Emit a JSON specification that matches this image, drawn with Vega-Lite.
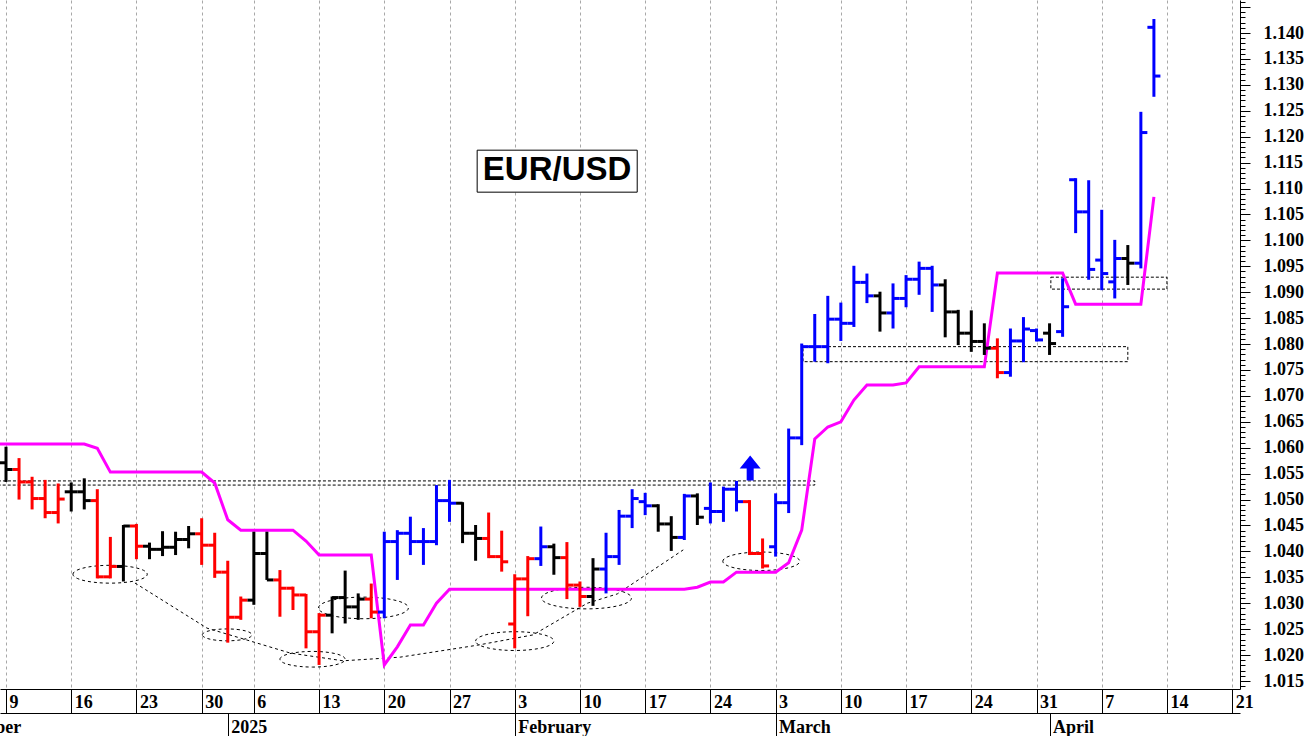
{
  "$schema": "https://vega.github.io/schema/vega-lite/v6.json",
  "width": 1240,
  "height": 689,
  "autosize": {"type": "none"},
  "padding": {"left": 0, "top": 0, "right": 71, "bottom": 47},
  "background": "white",
  "config": {
    "view": {"stroke": null},
    "axis": {
      "labelFont": "Liberation Serif",
      "labelFontWeight": "bold",
      "labelFontSize": 18,
      "labelColor": "black",
      "domainColor": "black",
      "domainWidth": 1,
      "tickColor": "black",
      "tickWidth": 1
    }
  },
  "datasets": {
    "bars": [
      {"i": 0, "o": 1.0571, "h": 1.0602, "l": 1.0534, "c": 1.0558, "s": "flat"},
      {"i": 1, "o": 1.0558, "h": 1.0580, "l": 1.0500, "c": 1.0534, "s": "down"},
      {"i": 2, "o": 1.0534, "h": 1.0544, "l": 1.0481, "c": 1.0502, "s": "down"},
      {"i": 3, "o": 1.0502, "h": 1.0538, "l": 1.0464, "c": 1.0475, "s": "down"},
      {"i": 4, "o": 1.0475, "h": 1.0531, "l": 1.0454, "c": 1.0501, "s": "down"},
      {"i": 5, "o": 1.0515, "h": 1.0533, "l": 1.0477, "c": 1.0515, "s": "flat"},
      {"i": 6, "o": 1.0515, "h": 1.0541, "l": 1.0481, "c": 1.0498, "s": "flat"},
      {"i": 7, "o": 1.0498, "h": 1.0520, "l": 1.0348, "c": 1.0351, "s": "down"},
      {"i": 8, "o": 1.0351, "h": 1.0428, "l": 1.0348, "c": 1.0371, "s": "down"},
      {"i": 9, "o": 1.0371, "h": 1.0451, "l": 1.0342, "c": 1.0449, "s": "flat"},
      {"i": 10, "o": 1.0449, "h": 1.0453, "l": 1.0385, "c": 1.0410, "s": "down"},
      {"i": 11, "o": 1.0410, "h": 1.0417, "l": 1.0385, "c": 1.0404, "s": "flat"},
      {"i": 12, "o": 1.0404, "h": 1.0439, "l": 1.0391, "c": 1.0408, "s": "flat"},
      {"i": 13, "o": 1.0408, "h": 1.0438, "l": 1.0393, "c": 1.0423, "s": "flat"},
      {"i": 14, "o": 1.0423, "h": 1.0449, "l": 1.0406, "c": 1.0434, "s": "flat"},
      {"i": 15, "o": 1.0434, "h": 1.0464, "l": 1.0374, "c": 1.0412, "s": "down"},
      {"i": 16, "o": 1.0412, "h": 1.0436, "l": 1.0349, "c": 1.0360, "s": "down"},
      {"i": 17, "o": 1.0360, "h": 1.0382, "l": 1.0224, "c": 1.0273, "s": "down"},
      {"i": 18, "o": 1.0273, "h": 1.0313, "l": 1.0268, "c": 1.0306, "s": "down"},
      {"i": 19, "o": 1.0306, "h": 1.0438, "l": 1.0297, "c": 1.0396, "s": "flat"},
      {"i": 20, "o": 1.0396, "h": 1.0438, "l": 1.0345, "c": 1.0345, "s": "flat"},
      {"i": 21, "o": 1.0345, "h": 1.0364, "l": 1.0274, "c": 1.0329, "s": "down"},
      {"i": 22, "o": 1.0329, "h": 1.0332, "l": 1.0287, "c": 1.0316, "s": "down"},
      {"i": 23, "o": 1.0316, "h": 1.0318, "l": 1.0213, "c": 1.0245, "s": "down"},
      {"i": 24, "o": 1.0245, "h": 1.0281, "l": 1.0181, "c": 1.0277, "s": "down"},
      {"i": 25, "o": 1.0277, "h": 1.0313, "l": 1.0242, "c": 1.0311, "s": "flat"},
      {"i": 26, "o": 1.0311, "h": 1.0363, "l": 1.0261, "c": 1.0293, "s": "flat"},
      {"i": 27, "o": 1.0293, "h": 1.0319, "l": 1.0268, "c": 1.0308, "s": "flat"},
      {"i": 28, "o": 1.0308, "h": 1.0338, "l": 1.0271, "c": 1.0283, "s": "down"},
      {"i": 29, "o": 1.0283, "h": 1.0438, "l": 1.0271, "c": 1.0419, "s": "up"},
      {"i": 30, "o": 1.0419, "h": 1.0441, "l": 1.0345, "c": 1.0435, "s": "up"},
      {"i": 31, "o": 1.0435, "h": 1.0467, "l": 1.0393, "c": 1.0419, "s": "up"},
      {"i": 32, "o": 1.0419, "h": 1.0445, "l": 1.0374, "c": 1.0419, "s": "up"},
      {"i": 33, "o": 1.0419, "h": 1.0528, "l": 1.0412, "c": 1.0498, "s": "up"},
      {"i": 34, "o": 1.0498, "h": 1.0538, "l": 1.0457, "c": 1.0493, "s": "up"},
      {"i": 35, "o": 1.0493, "h": 1.0495, "l": 1.0416, "c": 1.0435, "s": "flat"},
      {"i": 36, "o": 1.0435, "h": 1.0451, "l": 1.0382, "c": 1.0425, "s": "flat"},
      {"i": 37, "o": 1.0425, "h": 1.0475, "l": 1.0387, "c": 1.0390, "s": "down"},
      {"i": 38, "o": 1.0390, "h": 1.0440, "l": 1.0361, "c": 1.0380, "s": "down"},
      {"i": 39, "o": 1.0260, "h": 1.0356, "l": 1.0213, "c": 1.0347, "s": "down"},
      {"i": 40, "o": 1.0347, "h": 1.0391, "l": 1.0275, "c": 1.0386, "s": "down"},
      {"i": 41, "o": 1.0386, "h": 1.0448, "l": 1.0372, "c": 1.0409, "s": "up"},
      {"i": 42, "o": 1.0409, "h": 1.0415, "l": 1.0355, "c": 1.0388, "s": "flat"},
      {"i": 43, "o": 1.0388, "h": 1.0418, "l": 1.0308, "c": 1.0335, "s": "down"},
      {"i": 44, "o": 1.0335, "h": 1.0342, "l": 1.0293, "c": 1.0313, "s": "down"},
      {"i": 45, "o": 1.0313, "h": 1.0387, "l": 1.0295, "c": 1.0366, "s": "flat"},
      {"i": 46, "o": 1.0366, "h": 1.0436, "l": 1.0319, "c": 1.0390, "s": "up"},
      {"i": 47, "o": 1.0390, "h": 1.0480, "l": 1.0374, "c": 1.0468, "s": "up"},
      {"i": 48, "o": 1.0468, "h": 1.0520, "l": 1.0445, "c": 1.0502, "s": "up"},
      {"i": 49, "o": 1.0496, "h": 1.0513, "l": 1.0470, "c": 1.0488, "s": "up"},
      {"i": 50, "o": 1.0488, "h": 1.0491, "l": 1.0438, "c": 1.0453, "s": "flat"},
      {"i": 51, "o": 1.0453, "h": 1.0468, "l": 1.0401, "c": 1.0427, "s": "flat"},
      {"i": 52, "o": 1.0427, "h": 1.0511, "l": 1.0422, "c": 1.0507, "s": "up"},
      {"i": 53, "o": 1.0507, "h": 1.0512, "l": 1.0451, "c": 1.0466, "s": "flat"},
      {"i": 54, "o": 1.0483, "h": 1.0533, "l": 1.0454, "c": 1.0477, "s": "up"},
      {"i": 55, "o": 1.0477, "h": 1.0525, "l": 1.0457, "c": 1.0520, "s": "up"},
      {"i": 56, "o": 1.0520, "h": 1.0536, "l": 1.0477, "c": 1.0496, "s": "up"},
      {"i": 57, "o": 1.0496, "h": 1.0499, "l": 1.0393, "c": 1.0396, "s": "down"},
      {"i": 58, "o": 1.0396, "h": 1.0425, "l": 1.0367, "c": 1.0372, "s": "down"},
      {"i": 59, "o": 1.0409, "h": 1.0512, "l": 1.0390, "c": 1.0494, "s": "up"},
      {"i": 60, "o": 1.0494, "h": 1.0637, "l": 1.0474, "c": 1.0619, "s": "up"},
      {"i": 61, "o": 1.0619, "h": 1.0801, "l": 1.0605, "c": 1.0795, "s": "up"},
      {"i": 62, "o": 1.0795, "h": 1.0858, "l": 1.0766, "c": 1.0795, "s": "up"},
      {"i": 63, "o": 1.0795, "h": 1.0893, "l": 1.0763, "c": 1.0848, "s": "up"},
      {"i": 64, "o": 1.0848, "h": 1.0880, "l": 1.0806, "c": 1.0840, "s": "up"},
      {"i": 65, "o": 1.0840, "h": 1.0951, "l": 1.0833, "c": 1.0919, "s": "up"},
      {"i": 66, "o": 1.0919, "h": 1.0936, "l": 1.0879, "c": 1.0893, "s": "up"},
      {"i": 67, "o": 1.0893, "h": 1.0901, "l": 1.0824, "c": 1.0860, "s": "flat"},
      {"i": 68, "o": 1.0860, "h": 1.0917, "l": 1.0830, "c": 1.0888, "s": "up"},
      {"i": 69, "o": 1.0888, "h": 1.0933, "l": 1.0871, "c": 1.0925, "s": "up"},
      {"i": 70, "o": 1.0925, "h": 1.0959, "l": 1.0895, "c": 1.0946, "s": "up"},
      {"i": 71, "o": 1.0946, "h": 1.0951, "l": 1.0862, "c": 1.0914, "s": "up"},
      {"i": 72, "o": 1.0914, "h": 1.0925, "l": 1.0813, "c": 1.0862, "s": "flat"},
      {"i": 73, "o": 1.0862, "h": 1.0866, "l": 1.0798, "c": 1.0821, "s": "flat"},
      {"i": 74, "o": 1.0821, "h": 1.0865, "l": 1.0785, "c": 1.0805, "s": "flat"},
      {"i": 75, "o": 1.0805, "h": 1.0840, "l": 1.0779, "c": 1.0792, "s": "flat"},
      {"i": 76, "o": 1.0792, "h": 1.0811, "l": 1.0734, "c": 1.0745, "s": "down"},
      {"i": 77, "o": 1.0745, "h": 1.0830, "l": 1.0737, "c": 1.0806, "s": "up"},
      {"i": 78, "o": 1.0806, "h": 1.0852, "l": 1.0765, "c": 1.0829, "s": "up"},
      {"i": 79, "o": 1.0826, "h": 1.0830, "l": 1.0805, "c": 1.0808, "s": "up"},
      {"i": 80, "o": 1.0821, "h": 1.0840, "l": 1.0779, "c": 1.0801, "s": "flat"},
      {"i": 81, "o": 1.0824, "h": 1.0927, "l": 1.0814, "c": 1.0872, "s": "up"},
      {"i": 82, "o": 1.1117, "h": 1.1120, "l": 1.1014, "c": 1.1055, "s": "up"},
      {"i": 83, "o": 1.1055, "h": 1.1116, "l": 1.0924, "c": 1.0944, "s": "up"},
      {"i": 84, "o": 1.0962, "h": 1.1059, "l": 1.0904, "c": 1.0936, "s": "up"},
      {"i": 85, "o": 1.0920, "h": 1.1001, "l": 1.0888, "c": 1.0965, "s": "up"},
      {"i": 86, "o": 1.0965, "h": 1.0991, "l": 1.0914, "c": 1.0956, "s": "flat"},
      {"i": 87, "o": 1.0956, "h": 1.1248, "l": 1.0946, "c": 1.1208, "s": "up"},
      {"i": 88, "o": 1.1411, "h": 1.1427, "l": 1.1277, "c": 1.1317, "s": "up"}
    ],
    "stop": [
      {"i": -1, "v": 1.0607}, {"i": 0, "v": 1.0607}, {"i": 1, "v": 1.0607}, {"i": 2, "v": 1.0607},
      {"i": 3, "v": 1.0607}, {"i": 4, "v": 1.0607}, {"i": 5, "v": 1.0607}, {"i": 6, "v": 1.0607},
      {"i": 7, "v": 1.0599}, {"i": 8, "v": 1.0553}, {"i": 9, "v": 1.0553}, {"i": 10, "v": 1.0553},
      {"i": 11, "v": 1.0553}, {"i": 12, "v": 1.0553}, {"i": 13, "v": 1.0553}, {"i": 14, "v": 1.0553},
      {"i": 15, "v": 1.0553}, {"i": 16, "v": 1.0532}, {"i": 17, "v": 1.0461}, {"i": 18, "v": 1.0441},
      {"i": 19, "v": 1.0441}, {"i": 20, "v": 1.0441}, {"i": 21, "v": 1.0441}, {"i": 22, "v": 1.0441},
      {"i": 23, "v": 1.0420}, {"i": 24, "v": 1.0393}, {"i": 25, "v": 1.0393}, {"i": 26, "v": 1.0393},
      {"i": 27, "v": 1.0393}, {"i": 28, "v": 1.0393}, {"i": 29, "v": 1.0181}, {"i": 30, "v": 1.0216},
      {"i": 31, "v": 1.0258}, {"i": 32, "v": 1.0258}, {"i": 33, "v": 1.0300}, {"i": 34, "v": 1.0327},
      {"i": 35, "v": 1.0327}, {"i": 36, "v": 1.0327}, {"i": 37, "v": 1.0327}, {"i": 38, "v": 1.0327},
      {"i": 39, "v": 1.0327}, {"i": 40, "v": 1.0327}, {"i": 41, "v": 1.0327}, {"i": 42, "v": 1.0327},
      {"i": 43, "v": 1.0327}, {"i": 44, "v": 1.0327}, {"i": 45, "v": 1.0327}, {"i": 46, "v": 1.0327},
      {"i": 47, "v": 1.0327}, {"i": 48, "v": 1.0327}, {"i": 49, "v": 1.0327}, {"i": 50, "v": 1.0327},
      {"i": 51, "v": 1.0327}, {"i": 52, "v": 1.0327}, {"i": 53, "v": 1.0331}, {"i": 54, "v": 1.0341},
      {"i": 55, "v": 1.0341}, {"i": 56, "v": 1.0360}, {"i": 57, "v": 1.0360}, {"i": 58, "v": 1.0360},
      {"i": 59, "v": 1.0360}, {"i": 60, "v": 1.0378}, {"i": 61, "v": 1.0441}, {"i": 62, "v": 1.0617},
      {"i": 63, "v": 1.0640}, {"i": 64, "v": 1.0650}, {"i": 65, "v": 1.0692}, {"i": 66, "v": 1.0721},
      {"i": 67, "v": 1.0721}, {"i": 68, "v": 1.0721}, {"i": 69, "v": 1.0725}, {"i": 70, "v": 1.0756},
      {"i": 71, "v": 1.0756}, {"i": 72, "v": 1.0756}, {"i": 73, "v": 1.0756}, {"i": 74, "v": 1.0756},
      {"i": 75, "v": 1.0756}, {"i": 76, "v": 1.0937}, {"i": 77, "v": 1.0937}, {"i": 78, "v": 1.0937},
      {"i": 79, "v": 1.0937}, {"i": 80, "v": 1.0937}, {"i": 81, "v": 1.0937}, {"i": 82, "v": 1.0877},
      {"i": 83, "v": 1.0877}, {"i": 84, "v": 1.0877}, {"i": 85, "v": 1.0877}, {"i": 86, "v": 1.0877},
      {"i": 87, "v": 1.0877}, {"i": 88, "v": 1.1084}
    ],
    "trend": [
      {"i": 9.89, "v": 1.0339}, {"i": 15.41, "v": 1.0252}, {"i": 18.48, "v": 1.0229},
      {"i": 21.78, "v": 1.0204}, {"i": 25.84, "v": 1.0189}, {"i": 30.21, "v": 1.0196},
      {"i": 36.12, "v": 1.0219}, {"i": 40.41, "v": 1.0239}, {"i": 44.56, "v": 1.0300},
      {"i": 46.86, "v": 1.0318}, {"i": 51.92, "v": 1.0403}
    ],
    "zones": [
      {"x1": -1, "x2": 62.0, "y1": 1.0528, "y2": 1.0536},
      {"x1": 61.1, "x2": 86.0, "y1": 1.0766, "y2": 1.0795},
      {"x1": 80.1, "x2": 89.0, "y1": 1.0906, "y2": 1.0929}
    ],
    "ovals": [
      {"i": 7.98, "v": 1.0356, "span": 5.7},
      {"i": 16.95, "v": 1.0239, "span": 3.8},
      {"i": 23.5, "v": 1.0192, "span": 5.0},
      {"i": 27.4, "v": 1.0291, "span": 6.9},
      {"i": 39.0, "v": 1.0227, "span": 6.0},
      {"i": 44.5, "v": 1.0310, "span": 6.9},
      {"i": 57.9, "v": 1.0381, "span": 5.9}
    ],
    "arrow": [{"i": 57.05, "v": 1.0561}],
    "label": [{"x1": 36.12, "x2": 48.39, "y1": 1.1174, "y2": 1.1093, "i": 42.25, "v": 1.1136, "t": "EUR/USD"}]
  },
  "layer": [
    {
      "data": {"name": "zones"},
      "mark": {"type": "rect", "fill": "transparent", "stroke": "black", "strokeDash": [3, 2], "strokeWidth": 1, "clip": true},
      "encoding": {
        "x": {
          "field": "x1", "type": "quantitative",
          "scale": {"domain": [-0.46, 94.6], "nice": false, "zero": false},
          "axis": {
            "orient": "bottom",
            "title": null,
            "values": [0, 5, 10, 15, 19, 24, 29, 34, 39, 44, 49, 54, 59, 64, 69, 74, 79, 84, 89, 94],
            "tickCount": 100,
            "labelExpr": "['9','16','23','30','6','13','20','27','3','10','17','24','3','10','17','24','31','7','14','21'][indexof([0,5,10,15,19,24,29,34,39,44,49,54,59,64,69,74,79,84,89,94], datum.value)]",
            "labelAlign": "left",
            "labelBaseline": "middle",
            "labelOffset": 3,
            "labelPadding": -11,
            "labelFlush": false,
            "labelOverlap": false,
            "tickSize": 24,
            "grid": true,
            "gridColor": "#a8a8a8",
            "gridDash": [3, 3],
            "gridWidth": 1
          }
        },
        "x2": {"field": "x2"},
        "y": {
          "field": "y1", "type": "quantitative", "title": null,
          "scale": {"domain": [1.01346, 1.14637], "nice": false, "zero": false},
          "axis": {
            "orient": "right",
            "title": null,
            "grid": false,
            "ticks": true,
            "tickCount": 500,
            "values": [1.014,1.015,1.016,1.017,1.018,1.019,1.020,1.021,1.022,1.023,1.024,1.025,1.026,1.027,1.028,1.029,1.030,1.031,1.032,1.033,1.034,1.035,1.036,1.037,1.038,1.039,1.040,1.041,1.042,1.043,1.044,1.045,1.046,1.047,1.048,1.049,1.050,1.051,1.052,1.053,1.054,1.055,1.056,1.057,1.058,1.059,1.060,1.061,1.062,1.063,1.064,1.065,1.066,1.067,1.068,1.069,1.070,1.071,1.072,1.073,1.074,1.075,1.076,1.077,1.078,1.079,1.080,1.081,1.082,1.083,1.084,1.085,1.086,1.087,1.088,1.089,1.090,1.091,1.092,1.093,1.094,1.095,1.096,1.097,1.098,1.099,1.100,1.101,1.102,1.103,1.104,1.105,1.106,1.107,1.108,1.109,1.110,1.111,1.112,1.113,1.114,1.115,1.116,1.117,1.118,1.119,1.120,1.121,1.122,1.123,1.124,1.125,1.126,1.127,1.128,1.129,1.130,1.131,1.132,1.133,1.134,1.135,1.136,1.137,1.138,1.139,1.140,1.141,1.142,1.143,1.144,1.145,1.146],
            "labelExpr": "(round(datum.value*1000) % 5 == 0 && datum.value < 1.142) ? format(datum.value, '.3f') : ''",
            "tickSize": {"condition": {"test": "round(datum.value*1000) % 5 == 0", "value": 10}, "value": 5},
            "labelPadding": 13,
            "labelOverlap": false,
            "labelFlush": false
          }
        },
        "y2": {"field": "y2"}
      }
    },
    {
      "data": {"name": "trend"},
      "mark": {"type": "line", "stroke": "black", "strokeDash": [3, 3], "strokeWidth": 1},
      "encoding": {
        "x": {"field": "i", "type": "quantitative", "axis": null},
        "y": {"field": "v", "type": "quantitative", "title": null}
      }
    },
    {
      "data": {"name": "ovals"},
      "mark": {
        "type": "point",
        "shape": "M-1,0C-1,-0.1325,-0.552,-0.24,0,-0.24C0.552,-0.24,1,-0.1325,1,0C1,0.1325,0.552,0.24,0,0.24C-0.552,0.24,-1,0.1325,-1,0Z",
        "filled": false,
        "stroke": "black",
        "strokeDash": [3, 3],
        "strokeWidth": 1,
        "opacity": 1
      },
      "encoding": {
        "x": {"field": "i", "type": "quantitative", "axis": null},
        "y": {"field": "v", "type": "quantitative", "title": null},
        "size": {
          "field": "span", "type": "quantitative", "legend": null,
          "scale": {"type": "pow", "exponent": 2, "domain": [0, 10], "range": [0, 17004]}
        }
      }
    },
    {
      "data": {"name": "stop"},
      "mark": {"type": "line", "color": "#ff00ff", "strokeWidth": 3, "clip": true},
      "encoding": {
        "x": {"field": "i", "type": "quantitative", "axis": null},
        "y": {"field": "v", "type": "quantitative", "title": null}
      }
    },
    {
      "data": {"name": "bars"},
      "mark": {"type": "rule", "strokeWidth": 3},
      "encoding": {
        "x": {
          "field": "i", "type": "quantitative",
          "axis": {
            "orient": "bottom",
            "offset": 24,
            "title": null,
            "values": [-0.4, 17, 39, 59, 80],
            "labelExpr": "['December','2025','February','March','April'][indexof([-0.4,17,39,59,80], datum.value)]",
            "labelAlign": {"condition": {"test": "datum.value < 0", "value": "right"}, "value": "left"},
            "labelOffset": {"condition": {"test": "datum.value < 0", "value": 20}, "value": 3},
            "tickOpacity": {"condition": {"test": "datum.value < 0", "value": 0}, "value": 1},
            "labelBaseline": "middle",
            "labelPadding": -9,
            "labelFlush": false,
            "labelOverlap": false,
            "tickSize": 23,
            "grid": false
          }
        },
        "y": {"field": "l", "type": "quantitative", "title": null},
        "y2": {"field": "h"},
        "color": {
          "field": "s", "type": "nominal", "legend": null,
          "scale": {"domain": ["up", "down", "flat"], "range": ["#0000ff", "#ff0000", "#000000"]}
        }
      }
    },
    {
      "data": {"name": "bars"},
      "mark": {"type": "point", "shape": "M-1,0L0,0", "filled": false, "strokeWidth": 3, "size": 169, "opacity": 1},
      "encoding": {
        "x": {"field": "i", "type": "quantitative", "axis": null},
        "y": {"field": "o", "type": "quantitative", "title": null},
        "color": {"field": "s", "type": "nominal", "legend": null}
      }
    },
    {
      "data": {"name": "bars"},
      "mark": {"type": "point", "shape": "M0,0L1,0", "filled": false, "strokeWidth": 3, "size": 169, "opacity": 1},
      "encoding": {
        "x": {"field": "i", "type": "quantitative", "axis": null},
        "y": {"field": "c", "type": "quantitative", "title": null},
        "color": {"field": "s", "type": "nominal", "legend": null}
      }
    },
    {
      "data": {"name": "arrow"},
      "mark": {
        "type": "point",
        "shape": "M0,-1L0.84,0.04L0.28,0.04L0.28,1L-0.28,1L-0.28,0.04L-0.84,0.04Z",
        "filled": true,
        "color": "#0000ff",
        "size": 625,
        "opacity": 1
      },
      "encoding": {
        "x": {"field": "i", "type": "quantitative", "axis": null},
        "y": {"field": "v", "type": "quantitative", "title": null}
      }
    },
    {
      "data": {"name": "label"},
      "mark": {"type": "rect", "fill": "white", "stroke": "black", "strokeWidth": 1},
      "encoding": {
        "x": {"field": "x1", "type": "quantitative", "axis": null},
        "x2": {"field": "x2"},
        "y": {"field": "y1", "type": "quantitative", "title": null},
        "y2": {"field": "y2"}
      }
    },
    {
      "data": {"name": "label"},
      "mark": {"type": "text", "font": "Liberation Sans", "fontWeight": "bold", "fontSize": 33, "color": "black", "baseline": "middle", "align": "center"},
      "encoding": {
        "x": {"field": "i", "type": "quantitative", "axis": null},
        "y": {"field": "v", "type": "quantitative", "title": null},
        "text": {"field": "t"}
      }
    }
  ],
  "resolve": {"axis": {"x": "independent"}}
}
